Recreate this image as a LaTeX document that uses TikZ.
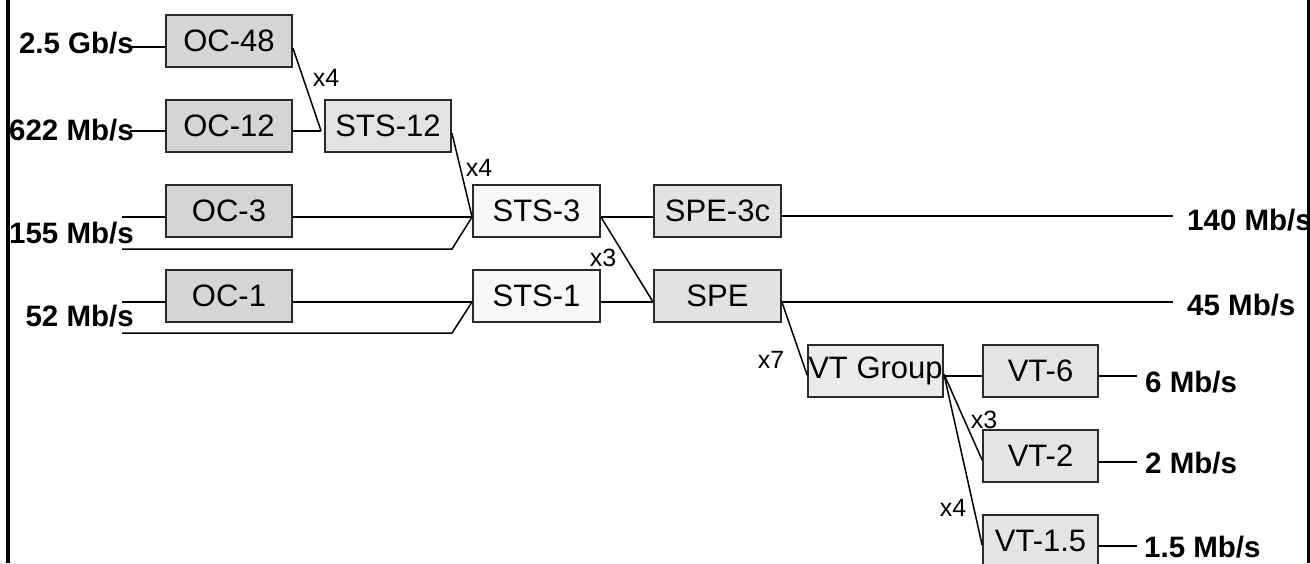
\documentclass[tikz,border=0pt]{standalone}
\usepackage{fontspec}
\setmainfont{Liberation Sans}
\definecolor{ocfill}{HTML}{D5D5D5}
\definecolor{stsfill}{HTML}{E3E3E3}
\definecolor{whitefill}{HTML}{F8F8F8}
\definecolor{spefill}{HTML}{E2E2E4}
\definecolor{vtgfill}{HTML}{EBEBEB}
\definecolor{vtfill}{HTML}{E4E4E4}
\definecolor{edge}{HTML}{2A2A2A}
\begin{document}
\begin{tikzpicture}[x=1pt,y=-1pt,
  box/.style={draw=edge,line width=1.8pt,minimum height=52pt,inner sep=0pt,font=\fontsize{31}{34}\selectfont},
  ocbox/.style={box,fill=ocfill,minimum width=126pt},
  stsbox/.style={box,fill=stsfill,minimum width=126pt},
  wbox/.style={box,fill=whitefill,minimum width=127pt},
  spebox/.style={box,fill=spefill,minimum width=127pt},
  vtgbox/.style={box,fill=vtgfill,minimum width=135pt},
  vtbox/.style={box,fill=vtfill,minimum width=115pt},
  rate/.style={inner sep=0pt,font=\fontsize{29.5}{32}\selectfont\bfseries},
  mult/.style={inner sep=0pt,font=\fontsize{25}{27}\selectfont},
  conn/.style={line width=1.5pt,black},
  bar/.style={line width=3.5pt,black}]
\useasboundingbox (0,0) rectangle (1310,563);
\clip (0,0) rectangle (1310,563);
% side bars
\coordinate (lbt) at (8,0); \coordinate (lbb) at (8,563);
\coordinate (rbt) at (1308.5,0); \coordinate (rbb) at (1308.5,563);
\draw[bar] (lbt) -- (lbb);
\draw[bar] (rbt) -- (rbb);
% boxes
\node[ocbox] (OC48) at (229,41) {OC-48};
\node[ocbox] (OC12) at (229,126) {OC-12};
\node[stsbox] (STS12) at (388,126) {STS-12};
\node[ocbox] (OC3) at (229,211) {OC-3};
\node[ocbox] (OC1) at (229,296) {OC-1};
\node[wbox] (STS3) at (536.5,211) {STS-3};
\node[wbox] (STS1) at (536.5,296) {STS-1};
\node[spebox] (SPE3c) at (717.5,211) {SPE-3c};
\node[spebox] (SPE) at (717.5,296) {SPE};
\node[vtgbox] (VTG) at (875.5,371) {VT Group};
\node[vtbox] (VT6) at (1040.5,371) {VT-6};
\node[vtbox] (VT2) at (1040.5,456) {VT-2};
\node[vtbox] (VT15) at (1040.5,541) {VT-1.5};
% left rates
\node[rate,anchor=east] (r48) at (134,43) {2.5 Gb/s};
\node[rate,anchor=east] (r12) at (134,130) {622 Mb/s};
\node[rate,anchor=east] (r3) at (134,233) {155 Mb/s};
\node[rate,anchor=east] (r1) at (134,316) {52 Mb/s};
% right rates
\node[rate,anchor=west] (r140) at (1187,220) {140 Mb/s};
\node[rate,anchor=west] (r45) at (1187,305) {45 Mb/s};
\node[rate,anchor=west] (r6) at (1145,382) {6 Mb/s};
\node[rate,anchor=west] (r2) at (1145,463) {2 Mb/s};
\node[rate,anchor=west] (r15) at (1144,547) {1.5 Mb/s};
% multipliers
\node[mult] (m1) at (326,78) {x4};
\node[mult] (m2) at (479,168) {x4};
\node[mult] (m3) at (603,258) {x3};
\node[mult] (m4) at (771,360) {x7};
\node[mult] (m5) at (984,420) {x3};
\node[mult] (m6) at (953,508) {x4};
% free ends
\coordinate (a48) at (130,47);
\coordinate (a12) at (130,131);
\coordinate (a3t) at (122,217);
\coordinate (a3b) at (122,249);
\coordinate (k3) at (452,249);
\coordinate (a1t) at (122,302);
\coordinate (a1b) at (122,333);
\coordinate (k1) at (452,333);
\coordinate (e140) at (1173,216);
\coordinate (e45) at (1173,302);
\coordinate (e6) at (1137,376);
\coordinate (e2) at (1137,462);
\coordinate (e15) at (1137,546);
% connectors
\draw[conn] (a48) -- ([yshift=-6pt]OC48.west);
\draw[conn] (a12) -- ([yshift=-5pt]OC12.west);
\draw[conn] ([yshift=-7pt]OC48.east) -- ([xshift=-3pt,yshift=-5pt]STS12.west);
\draw[conn] ([yshift=-5pt]OC12.east) -- ([xshift=-3pt,yshift=-5pt]STS12.west);
\draw[conn] ([yshift=-7pt]STS12.east) -- ([yshift=-6pt]STS3.west);
\draw[conn] (a3t) -- ([yshift=-6pt]OC3.west);
\draw[conn] ([yshift=-6pt]OC3.east) -- ([yshift=-6pt]STS3.west);
\draw[conn] (a3b) -- (k3) -- ([yshift=-6pt]STS3.west);
\draw[conn] (a1t) -- ([yshift=-6pt]OC1.west);
\draw[conn] ([yshift=-6pt]OC1.east) -- ([yshift=-6pt]STS1.west);
\draw[conn] (a1b) -- (k1) -- ([yshift=-6pt]STS1.west);
\draw[conn] ([yshift=-6pt]STS3.east) -- ([yshift=-6pt]SPE3c.west);
\draw[conn] ([yshift=-6pt]STS3.east) -- ([yshift=-6pt]SPE.west);
\draw[conn] ([yshift=-6pt]STS1.east) -- ([yshift=-6pt]SPE.west);
\draw[conn] ([yshift=-5pt]SPE3c.east) -- (e140);
\draw[conn] ([yshift=-6pt]SPE.east) -- (e45);
\draw[conn] ([yshift=-6pt]SPE.east) -- ([yshift=-4pt]VTG.west);
\draw[conn] ([yshift=-5pt]VTG.east) -- ([yshift=-5pt]VT6.west);
\draw[conn] ([yshift=-3pt]VTG.east) -- ([yshift=-4pt]VT2.west);
\draw[conn] ([yshift=-3pt]VTG.east) -- ([yshift=-4pt]VT15.west);
\draw[conn] ([yshift=-5pt]VT6.east) -- (e6);
\draw[conn] ([yshift=-6pt]VT2.east) -- (e2);
\draw[conn] ([yshift=-5pt]VT15.east) -- (e15);
\end{tikzpicture}
\end{document}
